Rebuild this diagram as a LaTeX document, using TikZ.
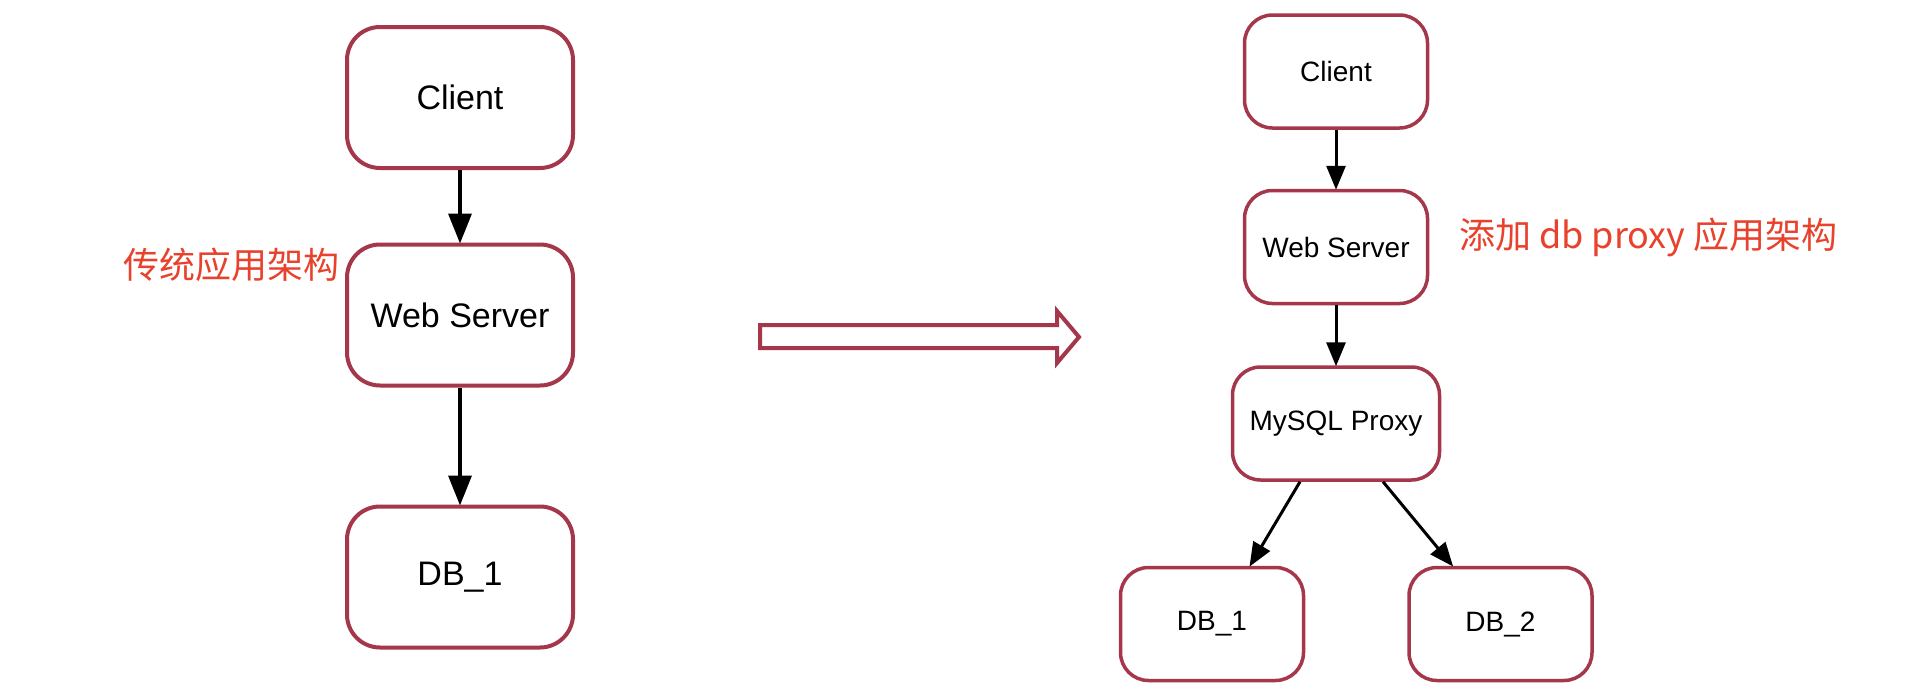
\documentclass[tikz,border=0pt]{standalone}
\usepackage{fontspec}
\setmainfont{Liberation Sans}
\newfontfamily\cjk{Noto Sans CJK SC}
\usetikzlibrary{arrows.meta,calc}
\definecolor{boxred}{RGB}{165,55,75}
\definecolor{labelred}{RGB}{232,65,44}
\tikzset{
  bigbox/.style={draw=boxred, line width=4pt, rounded corners=33pt, fill=white,
    minimum width=226pt, minimum height=141pt, inner sep=0pt,
    font=\fontsize{34}{40}\selectfont},
  smallbox/.style={draw=boxred, line width=3.5pt, rounded corners=28pt, fill=white,
    minimum width=183pt, minimum height=113pt, inner sep=0pt,
    font=\fontsize{28}{34}\selectfont},
  bigarrow/.style={line width=3.5pt, -{Triangle[length=30pt,width=23pt]}, shorten >=-1pt},
  smallarrow/.style={line width=3pt, -{Triangle[length=24pt,width=19pt]}, shorten >=-1pt},
  redlabel/.style={text=labelred, font=\cjk\fontsize{36}{40}\selectfont, inner sep=0pt}
}
\begin{document}
\begin{tikzpicture}[x=1pt,y=1pt]
\useasboundingbox[fill=white] (0,0) rectangle (1906,-686);
% left diagram
\node[bigbox] (lclient) at (460,-97.5) {Client};
\node[bigbox] (lweb) at (460,-315) {Web Server};
\node[bigbox] (ldb) at (460,-577) {DB\_1};
\draw[bigarrow] (lclient) -- (lweb);
\draw[bigarrow] (lweb) -- (ldb);
\node[redlabel] (llabel) at (231,-265) {传统应用架构};
% transition arrow
\draw[draw=boxred, line width=4pt, line join=miter]
  (760,-325) -- (1057,-325) -- (1057,-311) -- (1079,-337) -- (1057,-363)
  -- (1057,-348) -- (760,-348) -- cycle;
% right diagram
\node[smallbox] (rclient) at (1336,-71.5) {Client};
\node[smallbox] (rweb) at (1336,-247) {Web Server};
\node[smallbox, minimum width=207pt] (rproxy) at (1336,-423.5) {MySQL Proxy};
\node[smallbox] (rdb1) at (1212,-624) {DB\_1};
\node[smallbox] (rdb2) at (1500.5,-624) {DB\_2};
\draw[smallarrow] (rclient) -- (rweb);
\draw[smallarrow] (rweb) -- (rproxy);
\draw[smallarrow] ($(rproxy.south)+(-36,0)$) -- ($(rdb1.north)+(38,0)$);
\draw[smallarrow] ($(rproxy.south)+(47,0)$) -- ($(rdb2.north)+(-48,0)$);
\node[redlabel, anchor=west] (rlabel) at (1459,-237) {添加 db proxy 应用架构};
\end{tikzpicture}
\end{document}
